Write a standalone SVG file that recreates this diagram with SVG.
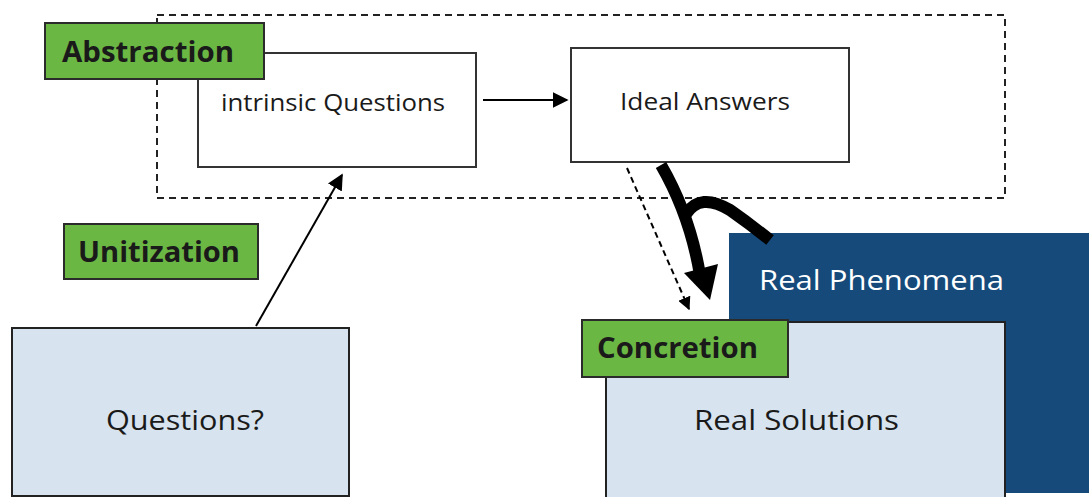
<svg xmlns="http://www.w3.org/2000/svg" width="1089" height="497" viewBox="0 0 1089 497">
<defs>
<marker id="ah" viewBox="0 0 10 10" refX="9" refY="5" markerWidth="6" markerHeight="6" markerUnits="userSpaceOnUse" orient="auto" style="overflow:visible">
<path d="M0,0 L10,5 L0,10 z" fill="#000"/>
</marker>
<marker id="ahs" viewBox="0 0 10 10" refX="9" refY="5" markerWidth="16" markerHeight="16" markerUnits="userSpaceOnUse" orient="auto">
<path d="M0,0 L10,5 L0,10 z" fill="#000"/>
</marker>
<marker id="ahd" viewBox="0 0 10 10" refX="9" refY="5" markerWidth="13" markerHeight="13" markerUnits="userSpaceOnUse" orient="auto">
<path d="M0,0 L10,5 L0,10 z" fill="#000"/>
</marker>
</defs>
<style>
.t{font-family:"Open Sans","Noto Sans","Liberation Sans",sans-serif;fill:#1a1a1a}
.b{font-weight:bold}
.box{fill:#fff;stroke:#333;stroke-width:2}
.lb{fill:#d7e3ee;stroke:#222;stroke-width:2}
.gr{fill:#6bb744;stroke:#2b2b2b;stroke-width:2}
</style>
<rect width="1089" height="497" fill="#fff"/>
<g id="abstraction-frame">
<rect x="157" y="15" width="848" height="183" fill="none" stroke="#222" stroke-width="2" stroke-dasharray="7,5"/>
</g>
<g id="real-phenomena">
<rect x="729" y="233" width="360" height="260" fill="#154a7b"/>
<text class="t" x="759" y="290" font-size="27" style="fill:#fff" textLength="245" lengthAdjust="spacingAndGlyphs">Real Phenomena</text>
</g>
<g id="intrinsic-questions">
<rect class="box" x="198" y="53" width="278" height="114"/>
<text class="t" x="221" y="111" font-size="24" textLength="224" lengthAdjust="spacingAndGlyphs">intrinsic Questions</text>
</g>
<g id="ideal-answers">
<rect class="box" x="571" y="48" width="278" height="114"/>
<text class="t" x="620" y="110" font-size="24" textLength="170" lengthAdjust="spacingAndGlyphs">Ideal Answers</text>
</g>
<g id="abstraction">
<rect class="gr" x="45" y="23" width="219" height="56"/>
<text class="t b" x="62" y="62" font-size="28" textLength="172" lengthAdjust="spacingAndGlyphs">Abstraction</text>
</g>
<g id="unitization">
<rect class="gr" x="64" y="224" width="194" height="55"/>
<text class="t b" x="78" y="262" font-size="28" textLength="162" lengthAdjust="spacingAndGlyphs">Unitization</text>
</g>
<g id="questions">
<rect class="lb" x="12" y="328" width="337" height="168"/>
<text class="t" x="106" y="430" font-size="27" textLength="158" lengthAdjust="spacingAndGlyphs">Questions?</text>
</g>
<g id="real-solutions">
<rect class="lb" x="606" y="322" width="399" height="180"/>
<text class="t" x="694" y="430" font-size="27" textLength="205" lengthAdjust="spacingAndGlyphs">Real Solutions</text>
</g>
<g id="concretion">
<rect class="gr" x="582" y="320" width="206" height="57"/>
<text class="t b" x="597" y="358" font-size="28" textLength="161" lengthAdjust="spacingAndGlyphs">Concretion</text>
</g>
<g id="connectors" fill="none" stroke="#000">
<line x1="483" y1="100" x2="567" y2="100" stroke-width="2" marker-end="url(#ahs)"/>
<line x1="256" y1="326" x2="342" y2="175" stroke-width="2" marker-end="url(#ahs)"/>
<line x1="627" y1="168" x2="689" y2="309" stroke-width="2" stroke-dasharray="6,4" marker-end="url(#ahd)"/>
<path d="M661,165 Q690,215 700,275" stroke-width="12"/>
<path d="M686,214 Q700,192 730,210 Q750,224 770,240" stroke-width="12"/>
<polygon points="684,273 718,264 710,300" fill="#000" stroke="none"/>
</g>
</svg>
